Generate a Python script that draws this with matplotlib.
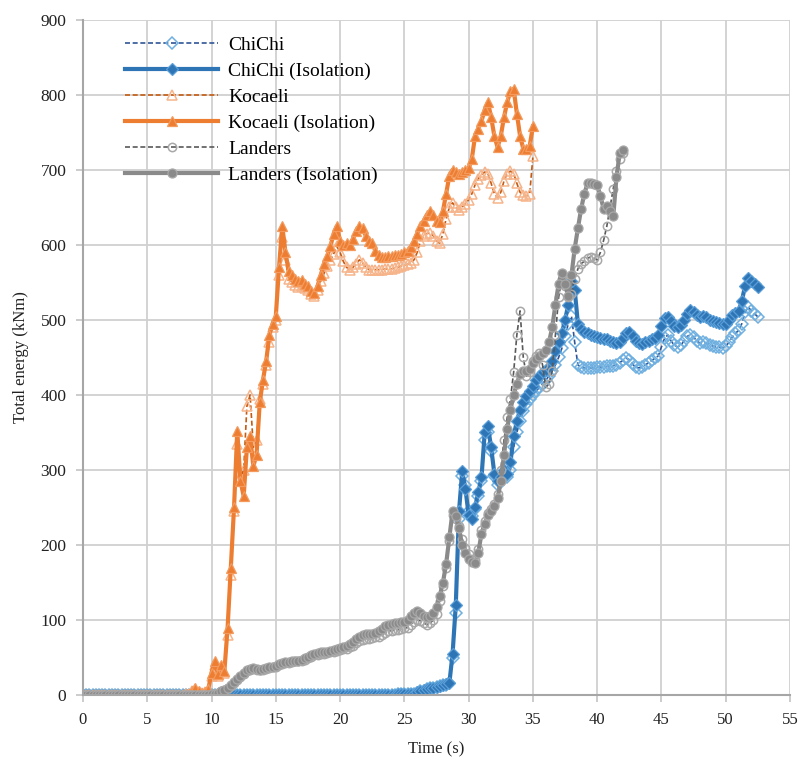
import numpy as np
import matplotlib
matplotlib.use("Agg")
import matplotlib.pyplot as plt

plt.rcParams['font.family'] = ['Liberation Serif', 'DejaVu Serif']

# sampling step of the energy records (s)
dt = 0.25

# ---- ChiChi ----------------------------------------------------------
chichi_iso = [
    # 0-5 s
    0, 0, 0, 0, 0, 0, 0, 0, 0, 0, 0, 0, 0, 0, 0, 0, 0, 0, 0, 0,
    # 5-10 s
    0, 0, 0, 0, 0, 0, 0, 0, 0, 0, 0, 0, 0, 0, 0, 0, 0, 0, 0, 0,
    # 10-15 s
    0, 0, 0, 0, 0, 0, 0, 0, 0, 0, 0, 0, 0, 0, 0, 0, 0, 0, 0, 0,
    # 15-20 s
    0, 0, 0, 0, 0, 0, 0, 0, 0, 0, 0, 0, 0, 0, 0, 0, 0, 0, 0, 0,
    # 20-25 s
    0, 0, 0, 0, 0, 0, 0, 0, 0, 0, 0, 0, 0, 0, 0, 0, 0, 0, 1, 1,
    # 25-30 s
    1, 1, 2, 2, 4, 5, 7, 8, 9, 10, 11, 12, 13, 15, 16, 55, 120, 245, 298, 275,
    # 30-35 s
    240, 235, 250, 270, 290, 350, 358, 330, 295, 285, 290, 300, 295, 310, 345, 365, 380, 390, 398, 405,
    # 35-40 s
    412, 420, 425, 430, 433, 437, 445, 458, 470, 482, 500, 520, 552, 540, 495, 488, 484, 482, 480, 478,
    # 40-45 s
    477, 476, 475, 474, 472, 470, 469, 470, 476, 482, 484, 478, 472, 469, 468, 470, 472, 474, 476, 480,
    # 45-50 s
    492, 502, 504, 498, 492, 490, 493, 500, 508, 513, 511, 506, 504, 505, 504, 500, 498, 497, 496, 494,
    # 50-52.5 s
    495, 500, 506, 509, 512, 525, 545, 556, 552, 548, 544,
]
chichi = [
    # 0-5 s
    0, 0, 0, 0, 0, 0, 0, 0, 0, 0, 0, 0, 0, 0, 0, 0, 0, 0, 0, 0,
    # 5-10 s
    0, 0, 0, 0, 0, 0, 0, 0, 0, 0, 0, 0, 0, 0, 0, 0, 0, 0, 0, 0,
    # 10-15 s
    0, 0, 0, 0, 0, 0, 0, 0, 0, 0, 0, 0, 0, 0, 0, 0, 0, 0, 0, 0,
    # 15-20 s
    0, 0, 0, 0, 0, 0, 0, 0, 0, 0, 0, 0, 0, 0, 0, 0, 0, 0, 0, 0,
    # 20-25 s
    0, 0, 0, 0, 0, 0, 0, 0, 0, 0, 0, 0, 0, 0, 0, 0, 0, 0, 1, 1,
    # 25-30 s
    1, 1, 2, 2, 3, 5, 6, 8, 9, 10, 11, 12, 13, 14, 16, 50, 110, 235, 292, 280,
    # 30-35 s
    245, 238, 248, 265, 285, 340, 350, 325, 292, 280, 285, 293, 290, 300, 330, 350, 365, 378, 388, 395,
    # 35-40 s
    400, 405, 410, 415, 420, 425, 432, 440, 450, 462, 478, 495, 505, 470, 440, 437, 436, 436, 436, 436,
    # 40-45 s
    437, 437, 437, 438, 438, 439, 440, 443, 446, 449, 447, 441, 437, 436, 437, 440, 443, 446, 449, 452,
    # 45-50 s
    464, 476, 480, 472, 466, 464, 466, 472, 478, 480, 477, 472, 469, 470, 469, 467, 465, 464, 464, 463,
    # 50-52.5 s
    465, 470, 477, 482, 486, 495, 510, 517, 512, 508, 504,
]

# ---- Kocaeli ---------------------------------------------------------
kocaeli_iso = [
    # 0-5 s
    0, 0, 0, 0, 0, 0, 0, 0, 0, 0, 0, 0, 0, 0, 0, 0, 0, 0, 0, 0,
    # 5-10 s
    0, 0, 0, 0, 0, 0, 0, 0, 0, 0, 0, 0, 1, 2, 6, 9, 5, 3, 4, 8,
    # 10-15 s
    30, 45, 28, 40, 32, 90, 170, 250, 352, 285, 265, 330, 345, 305, 320, 390, 420, 445, 480, 495,
    # 15-20 s
    505, 570, 625, 590, 565, 560, 555, 552, 553, 548, 545, 538, 536, 545, 560, 575, 585, 598, 615, 625,
    # 20-25 s
    605, 600, 602, 600, 608, 618, 625, 622, 612, 605, 602, 592, 586, 584, 584, 585, 585, 586, 587, 588,
    # 25-30 s
    590, 592, 597, 605, 615, 625, 632, 640, 645, 640, 632, 630, 645, 668, 692, 700, 697, 694, 697, 700,
    # 30-35 s
    702, 715, 745, 755, 765, 780, 790, 770, 745, 730, 745, 770, 790, 805, 808, 775, 745, 728, 728, 732,
    758,
]
kocaeli = [
    # 0-5 s
    0, 0, 0, 0, 0, 0, 0, 0, 0, 0, 0, 0, 0, 0, 0, 0, 0, 0, 0, 0,
    # 5-10 s
    0, 0, 0, 0, 0, 0, 0, 0, 0, 0, 0, 0, 1, 2, 5, 8, 4, 3, 4, 7,
    # 10-15 s
    25, 40, 26, 36, 30, 80, 160, 245, 335, 290, 300, 385, 400, 330, 340, 395, 415, 440, 470, 490,
    # 15-20 s
    500, 560, 610, 580, 555, 550, 546, 544, 545, 542, 540, 534, 532, 540, 552, 562, 572, 580, 588, 598,
    # 20-25 s
    590, 578, 570, 567, 570, 575, 580, 576, 570, 567, 567, 567, 567, 567, 568, 568, 568, 569, 570, 572,
    # 25-30 s
    573, 574, 576, 580, 590, 605, 612, 615, 616, 612, 605, 602, 615, 635, 650, 656, 650, 647, 650, 655,
    # 30-35 s
    660, 668, 680, 688, 693, 697, 695, 682, 668, 663, 670, 685, 695, 698, 695, 682, 670, 666, 665, 668,
    718,
]

# ---- Landers ---------------------------------------------------------
landers_iso = [
    # 0-5 s
    0, 0, 0, 0, 0, 0, 0, 0, 0, 0, 0, 0, 0, 0, 0, 0, 0, 0, 0, 0,
    # 5-10 s
    0, 0, 0, 0, 0, 0, 0, 0, 0, 0, 0, 0, 0, 0, 0, 0, 0, 0, 0, 0,
    # 10-15 s
    1, 2, 3, 5, 7, 10, 13, 17, 21, 25, 29, 33, 35, 36, 35, 34, 35, 36, 37, 38,
    # 15-20 s
    39, 41, 43, 44, 44, 45, 46, 46, 47, 49, 51, 53, 55, 56, 57, 57, 58, 59, 60, 62,
    # 20-25 s
    63, 64, 66, 68, 71, 75, 78, 80, 81, 81, 82, 83, 85, 88, 92, 94, 95, 96, 96, 97,
    # 25-30 s
    98, 100, 105, 110, 112, 110, 106, 104, 106, 110, 118, 132, 150, 175, 210, 245, 238, 222, 200, 190,
    # 30-35 s
    182, 178, 176, 190, 215, 228, 240, 245, 252, 262, 285, 320, 355, 380, 400, 415, 428, 432, 432, 435,
    # 35-40 s
    442, 448, 452, 456, 460, 470, 490, 520, 548, 563, 548, 532, 560, 595, 622, 648, 668, 682, 683, 681,
    # 40-42 s
    680, 665, 648, 652, 645, 638, 690, 722, 727,
]
landers = [
    # 0-5 s
    0, 0, 0, 0, 0, 0, 0, 0, 0, 0, 0, 0, 0, 0, 0, 0, 0, 0, 0, 0,
    # 5-10 s
    0, 0, 0, 0, 0, 0, 0, 0, 0, 0, 0, 0, 0, 0, 0, 0, 0, 0, 0, 0,
    # 10-15 s
    1, 2, 3, 5, 7, 9, 12, 16, 20, 24, 28, 32, 34, 35, 34, 33, 34, 35, 36, 37,
    # 15-20 s
    38, 40, 42, 43, 43, 44, 45, 45, 46, 47, 49, 51, 53, 54, 55, 55, 56, 57, 58, 59,
    # 20-25 s
    60, 61, 62, 64, 66, 69, 72, 74, 75, 75, 76, 77, 78, 80, 83, 85, 86, 87, 87, 88,
    # 25-30 s
    89, 90, 94, 98, 100, 99, 96, 94, 96, 100, 108, 125, 145, 170, 205, 240, 235, 225, 208, 196,
    # 30-35 s
    188, 182, 180, 195, 220, 232, 242, 248, 255, 268, 300, 340, 370, 395, 430, 480, 512, 450, 425, 430,
    # 35-40 s
    445, 452, 456, 440, 410, 415, 432, 480, 530, 555, 545, 530, 535, 555, 568, 575, 578, 582, 584, 582,
    # 40-42 s
    580, 590, 606, 625, 650, 675, 698, 715, 722,
]


def times(values):
    return np.arange(len(values)) * dt


fig = plt.figure(figsize=(7.98, 7.58), dpi=100)
ax = fig.add_axes([0.104, 0.083, 0.886, 0.891])

blue, blue_lt, blue_dk = '#2e75b6', '#6fb0e0', '#2f5597'
orange, orange_lt, orange_dk = '#ed7d31', '#f6b48a', '#c55a11'
gray, gray_lt, gray_dk = '#8a8a8a', '#a8a8a8', '#595959'

dash = (0, (3, 1.6))

ax.plot(times(chichi), chichi, ls=dash, lw=1.2, color=blue_dk,
        marker='D', ms=6.5, mfc='none', mec=blue_lt, mew=1.1, label='ChiChi')
ax.plot(times(chichi_iso), chichi_iso, ls='-', lw=3, color=blue,
        marker='D', ms=6.5, mfc=blue, mec='#5a9fd8', mew=0.9, label='ChiChi (Isolation)')
ax.plot(times(kocaeli), kocaeli, ls=dash, lw=1.2, color=orange_dk,
        marker='^', ms=7, mfc='none', mec=orange_lt, mew=1.1, label='Kocaeli')
ax.plot(times(kocaeli_iso), kocaeli_iso, ls='-', lw=3, color=orange,
        marker='^', ms=7, mfc=orange, mec='#f39a5c', mew=0.9, label='Kocaeli (Isolation)')
ax.plot(times(landers), landers, ls=dash, lw=1.2, color=gray_dk,
        marker='o', ms=6, mfc='none', mec=gray_lt, mew=1.1, label='Landers')
ax.plot(times(landers_iso), landers_iso, ls='-', lw=3, color=gray,
        marker='o', ms=6.5, mfc=gray, mec=gray_lt, mew=0.9, label='Landers (Isolation)')

ax.set_xlim(0, 55)
ax.set_ylim(0, 900)
ax.set_xticks(np.arange(0, 56, 5))
ax.set_yticks(np.arange(0, 901, 100))
ax.grid(True, color='#d0d0d0', lw=1.3)
ax.set_axisbelow(True)

for side in ('top', 'right'):
    ax.spines[side].set_visible(False)
for side in ('left', 'bottom'):
    ax.spines[side].set_color('#a6a6a6')
    ax.spines[side].set_linewidth(1.5)
ax.tick_params(axis='both', length=5, width=1.3, color='#c8c8c8',
               labelcolor='#222222')
ax.tick_params(axis='x', pad=7, labelsize=12)
ax.tick_params(axis='y', pad=7, labelsize=12.5)

ax.set_xlabel('Time (s)', fontsize=12, color='#222222', labelpad=10)
ax.set_ylabel('Total energy (kNm)', fontsize=12, color='#222222', labelpad=8)

leg = ax.legend(loc='upper left', bbox_to_anchor=(0.04, 0.996), frameon=False,
                fontsize=14, handlelength=4.8, handletextpad=0.5,
                labelspacing=0.43, borderaxespad=0.3)

fig.savefig('out.png', dpi=100)
